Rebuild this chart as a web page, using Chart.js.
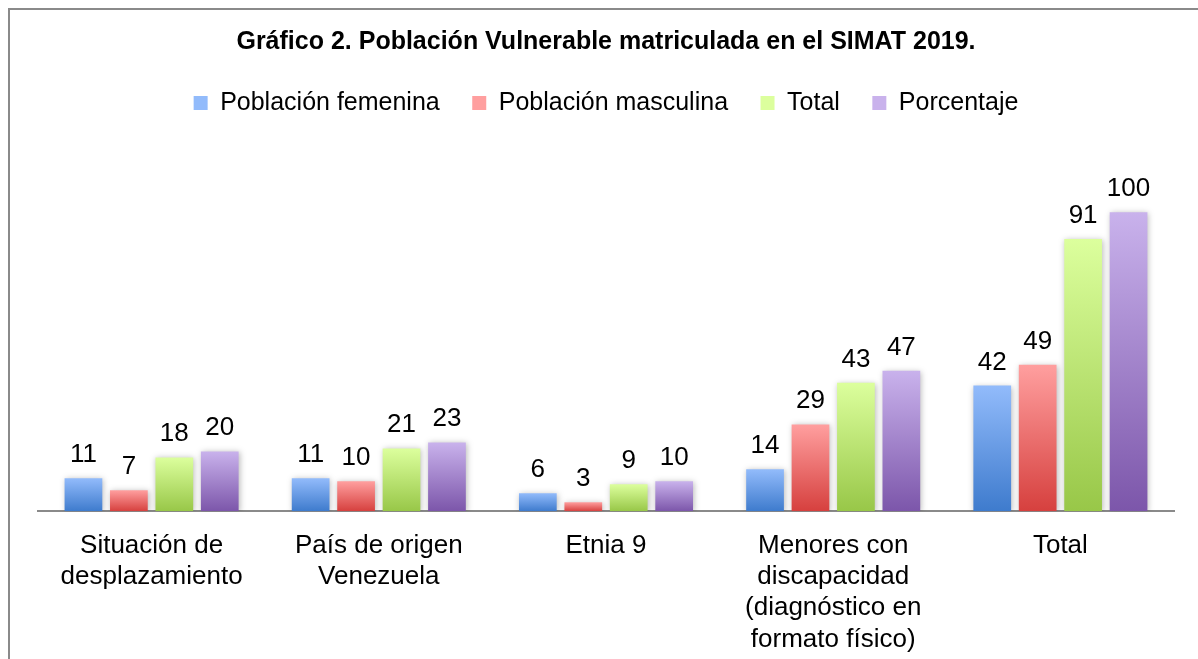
<!DOCTYPE html>
<html>
<head>
<meta charset="utf-8">
<script src="https://cdn.jsdelivr.net/npm/chart.js@4"></script>
<style>
  body { margin: 0; overflow: hidden; background: #fff; }
  .frame { position: absolute; left: 8px; top: 8px; width: 1400px; height: 900px;
           border-top: 2px solid #8a8a8a; border-left: 2px solid #8a8a8a; }
  #chart { position: absolute; left: 0; top: 0; }
</style>
</head>
<body>
<div class="frame"></div>
<canvas id="chart" width="1198" height="659"></canvas>
<script>
const categories = [
    ['Situación de', 'desplazamiento'],
    ['País de origen', 'Venezuela'],
    'Etnia 9',
    ['Menores con', 'discapacidad', '(diagnóstico en', 'formato físico)'],
    'Total'
];
const femenina = [11, 11, 6, 14, 42];
const masculina = [7, 10, 3, 29, 49];
const total = [18, 21, 9, 43, 91];
const porcentaje = [20, 23, 10, 47, 100];

const FONT = '"Liberation Sans", Arial, sans-serif';

// vertical gradient per bar, light on top and dark at the base
function grad(top, mid, bottom) {
    return function (c) {
        const chart = c.chart;
        if (c.type !== 'data' || !chart.chartArea) return mid;
        const y = chart.scales.y;
        const g = chart.ctx.createLinearGradient(0, y.getPixelForValue(c.raw), 0, y.getPixelForValue(0));
        g.addColorStop(0, top);
        g.addColorStop(1, bottom);
        return g;
    };
}

const barLabels = {
    id: 'barLabels',
    beforeDatasetsDraw(chart) {
        const ctx = chart.ctx;
        ctx.save();
        ctx.shadowColor = 'rgba(0,0,0,0.28)';
        ctx.shadowBlur = 6;
        ctx.shadowOffsetX = 1;
        ctx.shadowOffsetY = 1;
    },
    afterDatasetsDraw(chart) {
        const ctx = chart.ctx;
        ctx.restore();
        ctx.save();
        ctx.font = '26px ' + FONT;
        ctx.fillStyle = '#000';
        ctx.textAlign = 'center';
        ctx.textBaseline = 'alphabetic';
        chart.data.datasets.forEach(function (ds, i) {
            chart.getDatasetMeta(i).data.forEach(function (bar, j) {
                ctx.fillText(ds.data[j], bar.x, bar.y - 16);
            });
        });
        ctx.restore();
    }
};

const ctx = document.getElementById('chart').getContext('2d');
const chart = new Chart(ctx, {
    type: 'bar',
    data: {
        labels: categories,
        datasets: [
            { label: 'Población femenina', data: femenina,
              backgroundColor: grad('#92bbfb', '#6a9ce6', '#3e7bcd') },
            { label: 'Población masculina', data: masculina,
              backgroundColor: grad('#ff9f9f', '#ec7372', '#d6403e') },
            { label: 'Total', data: total,
              backgroundColor: grad('#dcff9d', '#bfe573', '#98c748') },
            { label: 'Porcentaje', data: porcentaje,
              backgroundColor: grad('#c9b2ec', '#a487cd', '#7c56aa') }
        ]
    },
    options: {
        responsive: false,
        animation: false,
        layout: { padding: { left: 38, right: 24, top: 0, bottom: -15 } },
        datasets: {
            bar: { categoryPercentage: 0.8, barPercentage: 0.83 }
        },
        scales: {
            x: {
                grid: { display: false, drawTicks: false },
                border: { display: true, color: '#8a8a8a', width: 2 },
                ticks: {
                    color: '#000',
                    padding: 19,
                    maxRotation: 0,
                    autoSkip: false,
                    font: { family: FONT, size: 26, lineHeight: 1.2 }
                }
            },
            y: {
                display: false,
                min: 0,
                max: 129
            }
        },
        plugins: {
            title: {
                display: true,
                text: 'Gráfico 2. Población Vulnerable matriculada en el SIMAT 2019.',
                color: '#000',
                font: { family: FONT, size: 25, weight: 'bold', lineHeight: 1 },
                padding: { top: 29.5, bottom: 3.5 }
            },
            legend: {
                display: true,
                labels: {
                    color: '#000',
                    boxWidth: 14,
                    boxHeight: 14,
                    padding: 32.5,
                    font: { family: FONT, size: 25 }
                }
            },
            tooltip: { enabled: false }
        }
    },
    plugins: [barLabels]
});
</script>
</body>
</html>
